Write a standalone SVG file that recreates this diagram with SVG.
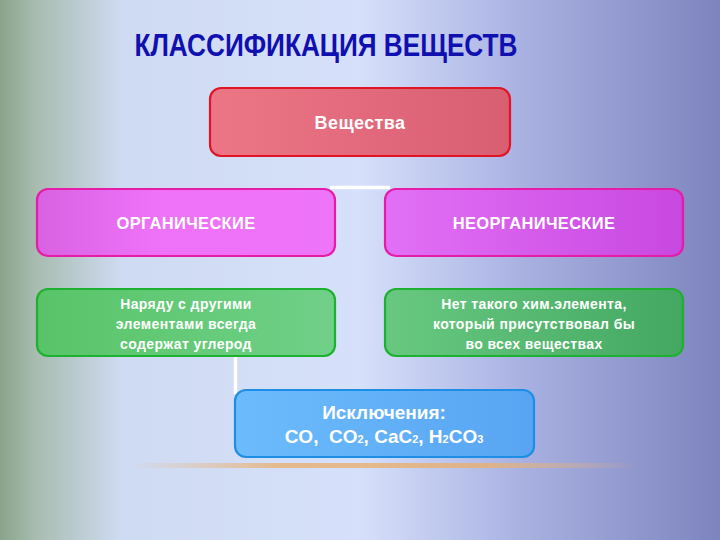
<svg xmlns="http://www.w3.org/2000/svg" width="720" height="540" viewBox="0 0 720 540">
<defs>
<linearGradient id="bg" x1="0" y1="0" x2="1" y2="0">
<stop offset="0" stop-color="#8aa48a"/>
<stop offset="0.05" stop-color="#a8bcb0"/>
<stop offset="0.17" stop-color="#cfdbf2"/>
<stop offset="0.5" stop-color="#d6e0fa"/>
<stop offset="0.72" stop-color="#aab2e2"/>
<stop offset="1" stop-color="#7e84be"/>
</linearGradient>
<linearGradient id="gRed" x1="0" y1="0" x2="1" y2="0">
<stop offset="0" stop-color="#ec7686"/>
<stop offset="1" stop-color="#d85e72"/>
</linearGradient>
<linearGradient id="gMagL" x1="0" y1="0" x2="1" y2="0">
<stop offset="0" stop-color="#d862e2"/>
<stop offset="0.4" stop-color="#ee72f8"/>
<stop offset="1" stop-color="#ee74f8"/>
</linearGradient>
<linearGradient id="gMagR" x1="0" y1="0" x2="1" y2="0">
<stop offset="0" stop-color="#e270f6"/>
<stop offset="1" stop-color="#c848e0"/>
</linearGradient>
<linearGradient id="gGrnL" x1="0" y1="0" x2="1" y2="0">
<stop offset="0" stop-color="#58c468"/>
<stop offset="1" stop-color="#70d088"/>
</linearGradient>
<linearGradient id="gGrnR" x1="0" y1="0" x2="1" y2="0">
<stop offset="0" stop-color="#68c880"/>
<stop offset="1" stop-color="#44a862"/>
</linearGradient>
<linearGradient id="gBlue" x1="0" y1="0" x2="1" y2="0">
<stop offset="0" stop-color="#6cbcfc"/>
<stop offset="1" stop-color="#58a4f2"/>
</linearGradient>
<linearGradient id="glow" x1="0" y1="0" x2="1" y2="0">
<stop offset="0" stop-color="#f0b070" stop-opacity="0"/>
<stop offset="0.3" stop-color="#e8b070" stop-opacity="0.8"/>
<stop offset="0.7" stop-color="#e8b070" stop-opacity="0.8"/>
<stop offset="1" stop-color="#f0b070" stop-opacity="0"/>
</linearGradient>
</defs>
<style>
.box{stroke-width:2.2}
.t{font-family:"Liberation Sans",Arial,sans-serif;font-weight:bold;fill:#ffffff;text-anchor:middle}
.h{font-size:16.5px;letter-spacing:0.3px}
.d{font-size:14px;letter-spacing:0.4px}
.e{font-size:19px}
.conn{stroke:#ffffff;stroke-width:3.5;fill:none}
</style>
<rect x="0" y="0" width="720" height="540" fill="url(#bg)"/>
<rect x="130" y="463" width="510" height="5" fill="url(#glow)"/>
<text x="326" y="56" font-family="'Liberation Sans',Arial,sans-serif" font-weight="bold" font-size="31" fill="#1010b0" text-anchor="middle" textLength="383" lengthAdjust="spacingAndGlyphs">КЛАССИФИКАЦИЯ ВЕЩЕСТВ</text>
<g id="connectors">
<line class="conn" x1="330" y1="187.5" x2="390" y2="187.5"/>
<line class="conn" x1="235.5" y1="352" x2="235.5" y2="394"/>
</g>
<g id="n-substances">
<rect class="box" x="210" y="88" width="300" height="68" rx="11" fill="url(#gRed)" stroke="#e01424"/>
<text class="t" x="360" y="129" font-size="18" letter-spacing="0.4">Вещества</text>
</g>
<g id="n-organic">
<rect class="box" x="37" y="189" width="298" height="67" rx="11" fill="url(#gMagL)" stroke="#e41ca8"/>
<text class="t h" x="186" y="229">ОРГАНИЧЕСКИЕ</text>
</g>
<g id="n-inorganic">
<rect class="box" x="385" y="189" width="298" height="67" rx="11" fill="url(#gMagR)" stroke="#e41ca8"/>
<text class="t h" x="534" y="229">НЕОРГАНИЧЕСКИЕ</text>
</g>
<g id="n-organic-desc">
<rect class="box" x="37" y="289" width="298" height="67" rx="11" fill="url(#gGrnL)" stroke="#1eb030"/>
<text class="t d"><tspan x="186" y="309">Наряду с другими</tspan><tspan x="186" y="329">элементами всегда</tspan><tspan x="186" y="349">содержат углерод</tspan></text>
</g>
<g id="n-inorganic-desc">
<rect class="box" x="385" y="289" width="298" height="67" rx="11" fill="url(#gGrnR)" stroke="#1eb030"/>
<text class="t d"><tspan x="534" y="309">Нет такого хим.элемента,</tspan><tspan x="534" y="329">который присутствовал бы</tspan><tspan x="534" y="349">во всех веществах</tspan></text>
</g>
<g id="n-exceptions">
<rect class="box" x="235" y="390" width="299" height="67" rx="11" fill="url(#gBlue)" stroke="#1c8ee6"/>
<text class="t e" x="384" y="419">Исключения:</text>
<text class="t e" x="384" y="443">CO,&#160; CO<tspan font-size="11">2</tspan>, CaC<tspan font-size="11">2</tspan>, H<tspan font-size="11">2</tspan>CO<tspan font-size="11">3</tspan></text>
</g>
</svg>
